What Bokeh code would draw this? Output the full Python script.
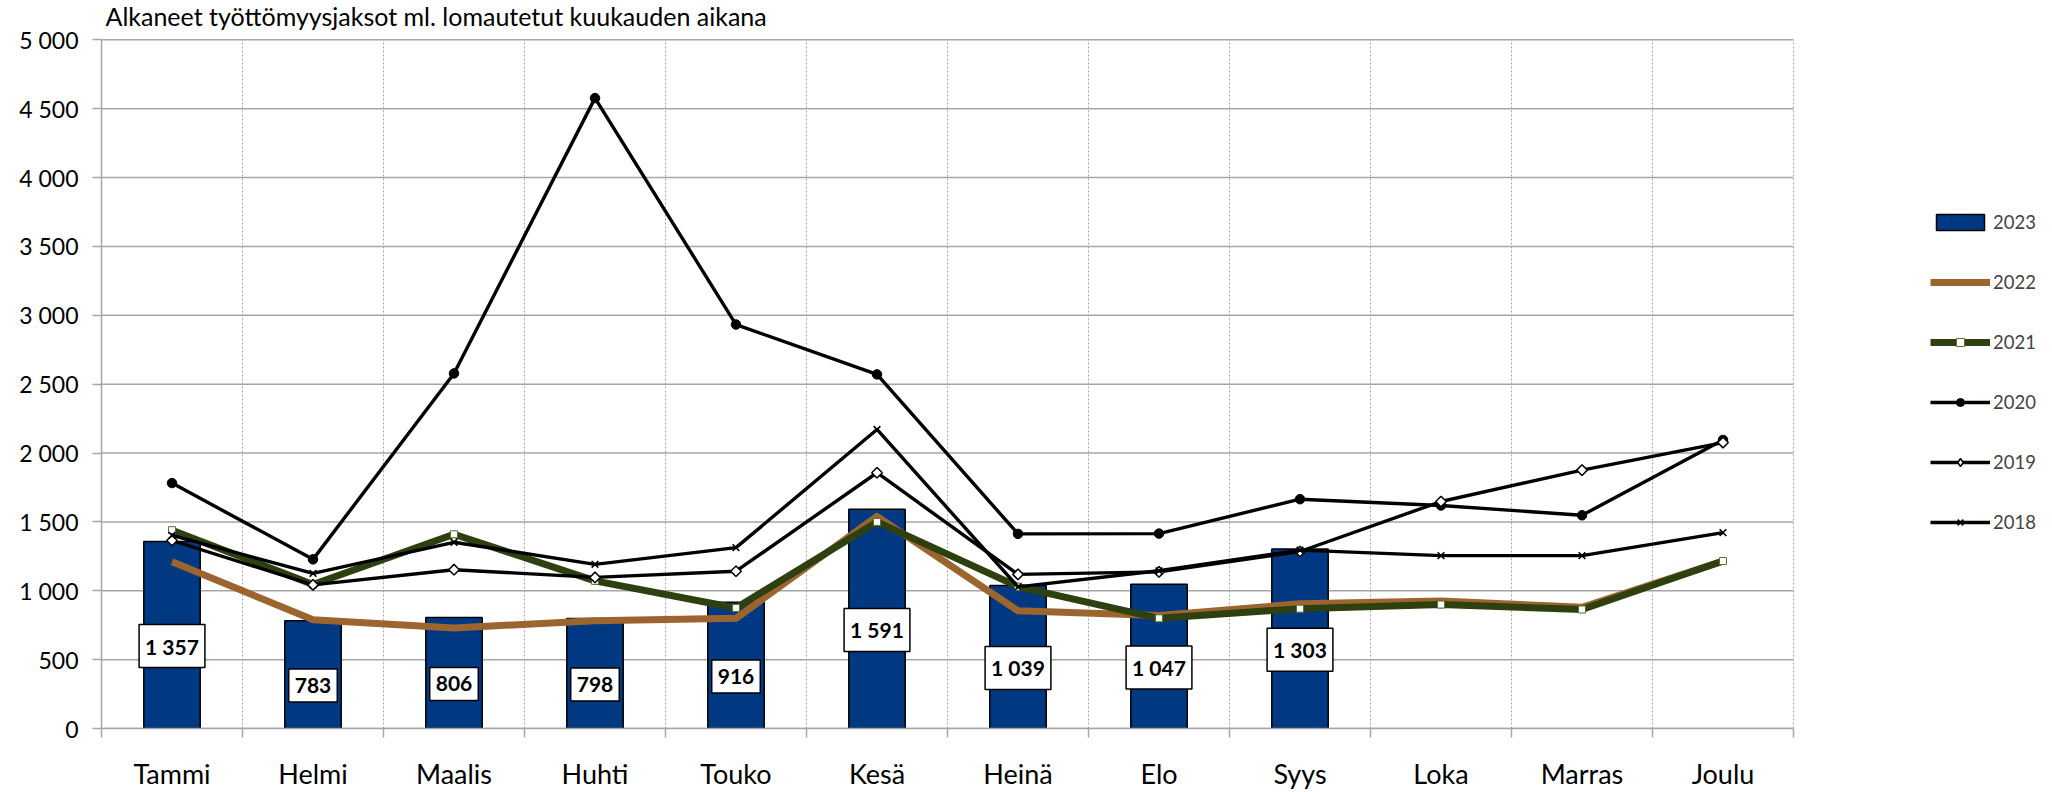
import numpy as np
from bokeh.plotting import figure
from bokeh.models import Range1d, FixedTicker, Legend, LegendItem, Label
from bokeh.embed import file_html
from bokeh.resources import INLINE
from bokeh.core.properties import value

title_text = "Alkaneet työttömyysjaksot ml. lomautetut kuukauden aikana"
months = ["Tammi", "Helmi", "Maalis", "Huhti", "Touko", "Kesä",
          "Heinä", "Elo", "Syys", "Loka", "Marras", "Joulu"]
v2023 = [1357, 783, 806, 798, 916, 1591, 1039, 1047, 1303]
v2022 = [1210, 790, 730, 783, 800, 1540, 855, 820, 905, 925, 880, 1215]
v2021 = [1440, 1045, 1410, 1072, 875, 1500, 1030, 800, 870, 900, 864, 1216]
v2020 = [1782, 1228, 2578, 4577, 2933, 2571, 1413, 1415, 1665, 1619, 1548, 2095]
v2019 = [1365, 1043, 1153, 1097, 1142, 1857, 1119, 1137, 1285, 1648, 1876, 2076]
v2018 = [1402, 1126, 1352, 1192, 1313, 2171, 1028, 1145, 1295, 1255, 1255, 1422]
y_ticks = [0, 500, 1000, 1500, 2000, 2500, 3000, 3500, 4000, 4500, 5000]
y_tick_labels = ["0", "500", "1 000", "1 500", "2 000", "2 500",
                 "3 000", "3 500", "4 000", "4 500", "5 000"]

FONT = "Lato"
GRID = "#A6A6A6"
BLUE = "#003882"
BROWN = "#9C6530"
GREEN = "#2E4010"
GREEN_EDGE = "#5A7032"

# layout (pixels)
W, H = 2048, 792
LEFT, RIGHT, BOTTOM = 101, 3, 52
CAT_PX = 141.0          # width of one month slot on screen
VAL_PX = 700.0          # height of the 0..5000 value span on screen
HEAD_PX = 40.0          # room for the title above the 5000 line

n = len(months)
x = [i + 0.5 for i in range(n)]
bounds = list(range(n + 1))
xb = x[:len(v2023)]
y_top = y_ticks[-1]
frame_w = W - LEFT - RIGHT
x_end = frame_w / CAT_PX                     # room on the right for the legend
y_end = y_top * (VAL_PX + HEAD_PX) / VAL_PX  # room on top for the title

p = figure(width=W, height=H, output_backend="svg", toolbar_location=None,
           title=None,
           x_range=Range1d(0, x_end), y_range=Range1d(y_ticks[0], y_end),
           min_border_left=LEFT, min_border_right=RIGHT, min_border_top=0,
           min_border_bottom=BOTTOM)
p.outline_line_color = None
p.background_fill_color = "white"
p.border_fill_color = "white"

p.add_layout(Label(x=0, y=y_end, text=title_text, x_offset=4,
                   text_align="left", text_baseline="top",
                   text_font=FONT, text_font_size="25px",
                   text_color="black"))

xa = p.xaxis[0]
xa.bounds = (0, n)
xa.ticker = FixedTicker(ticks=x, minor_ticks=bounds)
xa.major_label_overrides = {xi: m for xi, m in zip(x, months)}
xa.major_tick_line_color = None
xa.major_tick_out = 0
xa.major_tick_in = 0
xa.minor_tick_line_color = GRID
xa.minor_tick_line_width = 1.5
xa.minor_tick_out = 9
xa.minor_tick_in = 0
xa.axis_line_color = GRID
xa.axis_line_width = 1.5
xa.major_label_text_font = FONT
xa.major_label_text_font_size = "27px"
xa.major_label_text_color = "black"
xa.major_label_standoff = 19

ya = p.yaxis[0]
ya.bounds = (y_ticks[0], y_top)
ya.ticker = FixedTicker(ticks=y_ticks)
ya.major_label_overrides = {t: s for t, s in zip(y_ticks, y_tick_labels)}
ya.major_tick_line_color = GRID
ya.major_tick_line_width = 1.5
ya.major_tick_out = 9
ya.major_tick_in = 0
ya.minor_tick_line_color = None
ya.axis_line_color = GRID
ya.axis_line_width = 1.5
ya.major_label_text_font = FONT
ya.major_label_text_font_size = "23px"
ya.major_label_text_color = "black"
ya.major_label_standoff = 14

# grid limited to the month / value area
p.xgrid.grid_line_color = None
p.ygrid.grid_line_color = None
p.segment(x0=bounds, x1=bounds, y0=[y_ticks[0]] * len(bounds),
          y1=[y_top] * len(bounds), line_color=GRID, line_width=1,
          line_dash="2 2", level="underlay")
p.segment(x0=[0] * len(y_ticks), x1=[n] * len(y_ticks), y0=y_ticks,
          y1=y_ticks, line_color=GRID, line_width=1.5, level="underlay")

bars = p.vbar(x=xb, top=v2023, width=0.4, fill_color=BLUE,
              line_color="black", line_width=1.5)

l22 = p.line(x, v2022, line_color=BROWN, line_width=7, line_join="round")
l21 = p.line(x, v2021, line_color=GREEN, line_width=7, line_join="round")
s21 = p.scatter(x, v2021, marker="square", size=7, fill_color="white",
                line_color=GREEN_EDGE, line_width=1)
l20 = p.line(x, v2020, line_color="black", line_width=3.4, line_join="round")
s20 = p.scatter(x, v2020, marker="circle", size=9.5, fill_color="black",
                line_color="black")
l19 = p.line(x, v2019, line_color="black", line_width=3.4, line_join="round")
# diamond used as the legend key (the legend ignores marker angle); it sits
# hidden underneath the rotated-square markers drawn next
s19_key = p.scatter(x, v2019, marker="diamond", size=6, fill_color="white",
                    line_color="black", line_width=1.5)
s19 = p.scatter(x, v2019, marker="square", angle=np.pi / 4, size=7.5,
                fill_color="white", line_color="black", line_width=1.5)
l18 = p.line(x, v2018, line_color="black", line_width=3.4, line_join="round")
s18 = p.scatter(x, v2018, marker="x", size=9.5, line_color="black",
                line_width=1.6)

labels = [f"{v:,}".replace(",", " ") for v in v2023]
p.text(x=xb, y=[v / 2 for v in v2023], text=labels, text_align="center",
       text_baseline="middle", text_font=value(FONT), text_font_style="bold",
       text_font_size="21px", text_color="black", y_offset=11,
       background_fill_color="white", border_line_color="black",
       border_line_width=1.5, padding=dict(x=6, y=9))

legend = Legend(items=[
    LegendItem(label="2023", renderers=[bars]),
    LegendItem(label="2022", renderers=[l22]),
    LegendItem(label="2021", renderers=[l21, s21]),
    LegendItem(label="2020", renderers=[l20, s20]),
    LegendItem(label="2019", renderers=[l19, s19_key]),
    LegendItem(label="2018", renderers=[l18, s18]),
], location=(1829, 195), margin=0, padding=5, spacing=38,
   glyph_width=60, glyph_height=20, label_height=22, label_standoff=3,
   label_text_font=FONT, label_text_font_size="18.5px",
   border_line_color=None, background_fill_alpha=0)
p.add_layout(legend, "center")

open("out.html", "w").write(file_html(p, INLINE))
